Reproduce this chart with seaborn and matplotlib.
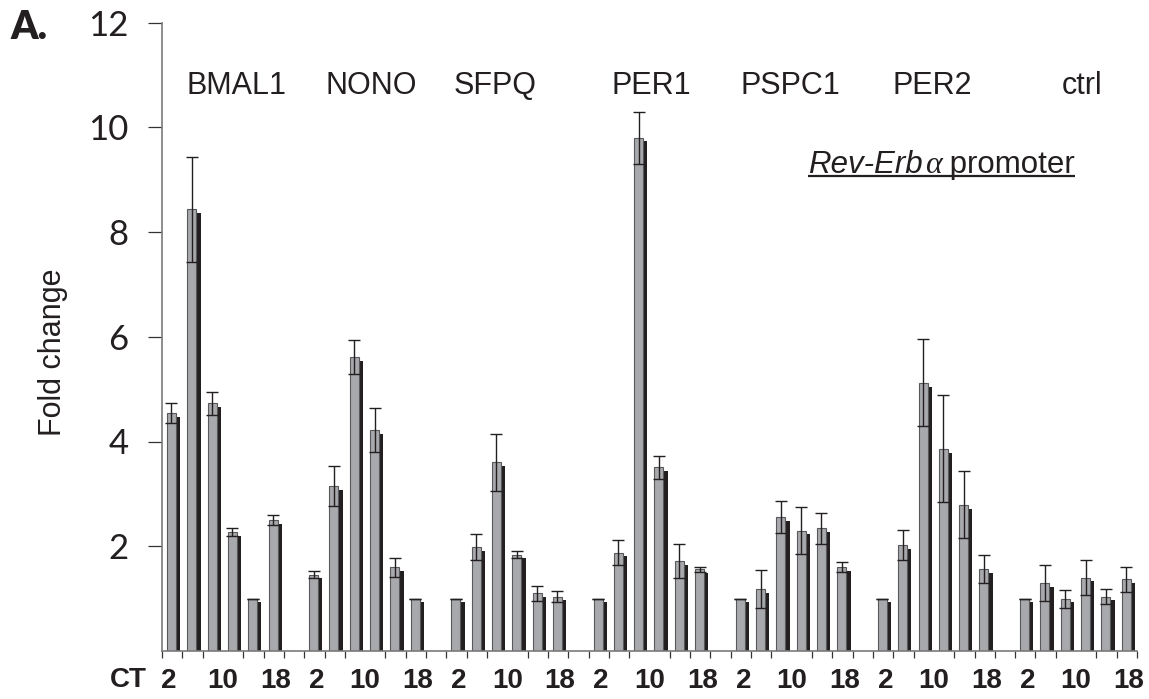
import numpy as np
import pandas as pd
import matplotlib
matplotlib.use("Agg")
import matplotlib.pyplot as plt
from matplotlib import font_manager
from matplotlib.transforms import ScaledTranslation
import seaborn as sns

# ---- data -------------------------------------------------------------
genes = ["BMAL1", "NONO", "SFPQ", "PER1", "PSPC1", "PER2", "ctrl"]
ct_hours = [2, 6, 10, 14, 18, 22]
ct_labels = ["2", "10", "18"]

bmal1 = [4.54, 8.43, 4.73, 2.27, 1.00, 2.50]
bmal1_err = [0.19, 1.01, 0.22, 0.07, 0.00, 0.09]
nono = [1.46, 3.15, 5.61, 4.22, 1.60, 1.00]
nono_err = [0.06, 0.38, 0.33, 0.42, 0.18, 0.00]
sfpq = [1.00, 1.98, 3.60, 1.84, 1.10, 1.04]
sfpq_err = [0.00, 0.25, 0.55, 0.07, 0.14, 0.10]
per1 = [1.00, 1.88, 9.80, 3.51, 1.72, 1.56]
per1_err = [0.00, 0.24, 0.50, 0.22, 0.32, 0.05]
pspc1 = [1.00, 1.18, 2.56, 2.30, 2.34, 1.60]
pspc1_err = [0.00, 0.36, 0.30, 0.45, 0.29, 0.10]
per2 = [1.00, 2.02, 5.12, 3.86, 2.79, 1.56]
per2_err = [0.00, 0.29, 0.83, 1.02, 0.64, 0.27]
ctrl = [1.00, 1.30, 1.00, 1.40, 1.04, 1.37]
ctrl_err = [0.00, 0.34, 0.17, 0.33, 0.15, 0.24]

values = [bmal1, nono, sfpq, per1, pspc1, per2, ctrl]
errors = [bmal1_err, nono_err, sfpq_err, per1_err, pspc1_err, per2_err, ctrl_err]

# ---- layout helpers ----------------------------------------------------
n_t = len(ct_hours)
group_step = n_t + 1          # six bars plus one empty slot between genes
n_slots = group_step * len(genes) - 1
bar_pos = 0.465               # bar centre inside its unit slot
bar_width = 0.443

rows = []
for g, (gene, vals, errs) in enumerate(zip(genes, values, errors)):
    for t, (h, v, e) in enumerate(zip(ct_hours, vals, errs)):
        rows.append({"gene": gene, "ct": h, "fold": v, "err": e,
                     "x": g * group_step + t + bar_pos})
df = pd.DataFrame(rows)

sns.set_style("white")
avail = {f.name for f in font_manager.fontManager.ttflist}
sans = "Liberation Sans"
narrow = "Liberation Sans Narrow" if "Liberation Sans Narrow" in avail else "Liberation Sans"
num_font = "Lato" if "Lato" in avail else "Open Sans"
plt.rcParams["font.family"] = [sans, "DejaVu Sans"]

DPI = 100
fig = plt.figure(figsize=(11.49, 6.99), dpi=DPI)
ax = fig.add_axes([162 / 1149, 1 - 651 / 699, (1137 - 162) / 1149, (651 - 22.5) / 699])

gray = "#a7a9ac"
dark = "#231f20"

# shadow bars, shifted right/down in screen space
n0 = len(ax.patches)
sns.barplot(data=df, x="x", y="fold", native_scale=True, width=bar_width,
            color=dark, saturation=1, errorbar=None, linewidth=0, ax=ax,
            zorder=1)
shift = ScaledTranslation(4.3 / DPI, -3.7 / DPI, fig.dpi_scale_trans)
for p in ax.patches[n0:]:
    p.set_transform(ax.transData + shift)

# front bars
sns.barplot(data=df, x="x", y="fold", native_scale=True, width=bar_width,
            color=gray, saturation=1, errorbar=None, edgecolor="#58595b",
            linewidth=0.8, ax=ax, zorder=2)

ax.errorbar(df["x"], df["fold"], yerr=df["err"], fmt="none", ecolor=dark,
            elinewidth=1.0, capsize=4.5, capthick=1.0, zorder=3)

# ---- axes ---------------------------------------------------------------
ax.set_xlim(0, n_slots)
ax.set_ylim(0, 12)
ax.set_xlabel("")
ax.set_ylabel("")
for side in ("top", "right"):
    ax.spines[side].set_visible(False)
for side in ("left", "bottom"):
    ax.spines[side].set_color("#7a7a7a")
    ax.spines[side].set_linewidth(1.2)
    ax.spines[side].set_zorder(4)

ax.set_yticks(np.arange(2, 13, 2))
ax.set_yticklabels([str(v) for v in range(2, 13, 2)])
ax.tick_params(axis="y", direction="out", length=10, width=0.9, color="#333333",
               pad=14, labelsize=25, left=True)
for lab in ax.get_yticklabels():
    lab.set_fontfamily(num_font)
    lab.set_color("#231f20")

# slot boundary ticks (minor) and CT labels (major, no tick mark)
ax.set_xticks(np.arange(0, n_slots + 1), minor=True)
label_rel = [0.62, 3.0, 5.6]
major_pos, major_lab = [], []
for g in range(len(genes)):
    for r, lab in zip(label_rel, ct_labels):
        rr = 0.31 if (g == 0 and lab == "2") else r
        major_pos.append(g * group_step + rr)
        major_lab.append(lab)
ax.set_xticks(major_pos)
ax.set_xticklabels(major_lab)
ax.tick_params(axis="x", which="minor", direction="out", length=5, width=0.9,
               color="#333333", bottom=True)
ax.tick_params(axis="x", which="major", length=0, pad=12.5, labelsize=20)
for lab in ax.get_xticklabels():
    lab.set_fontfamily(narrow)
    lab.set_fontweight("bold")
    lab.set_color("#231f20")

# ---- annotations --------------------------------------------------------
label_x = [3.69, 10.31, 16.42, 24.08, 30.92, 37.91, 45.30]
for gene, lx in zip(genes, label_x):
    ax.text(lx, 10.79, gene, ha="center", va="center", fontsize=22,
            color="#231f20", family=sans)

fig.text(147 / 1149, 1 - 687 / 699, "CT", ha="right", va="baseline",
         fontsize=20, fontweight="bold", family=narrow, color="#231f20")
fig.text(10 / 1149, 1 - 39 / 699, "A.", ha="left", va="baseline",
         fontsize=28, fontweight="heavy", family=num_font, color="#231f20")
fig.text(53 / 1149, 1 - 352 / 699, "Fold change", rotation=90, ha="center",
         va="center", fontsize=22, family=sans, color="#231f20")

# promoter caption: italic gene name, serif alpha, upright word, underlined
t1 = ax.text((808 - 162) / 20.31, 9.13, "Rev-Erb", ha="left", va="baseline",
             fontsize=22.5, style="italic", family=sans, color="#231f20")
t2 = ax.annotate("\u03b1", xy=(1, 0), xycoords=t1, xytext=(2, 0),
                 textcoords="offset pixels", ha="left", va="bottom",
                 fontsize=23, style="italic", family="Liberation Serif",
                 color="#231f20")
t3 = ax.annotate(" promoter", xy=(1, 0), xycoords=t2, ha="left", va="bottom",
                 fontsize=22.5, family=sans, color="#231f20")
fig.canvas.draw()
r = fig.canvas.get_renderer()
b1 = t1.get_window_extent(r)
b3 = t3.get_window_extent(r)
inv = ax.transData.inverted()
(x_a, y_a) = inv.transform((b1.x0, b1.y0 + 4))
(x_b, _) = inv.transform((b3.x1, b1.y0 + 4))
ax.plot([x_a, x_b], [y_a, y_a], color="#231f20", lw=1.6, solid_capstyle="butt")

fig.savefig("out.png", dpi=DPI)
